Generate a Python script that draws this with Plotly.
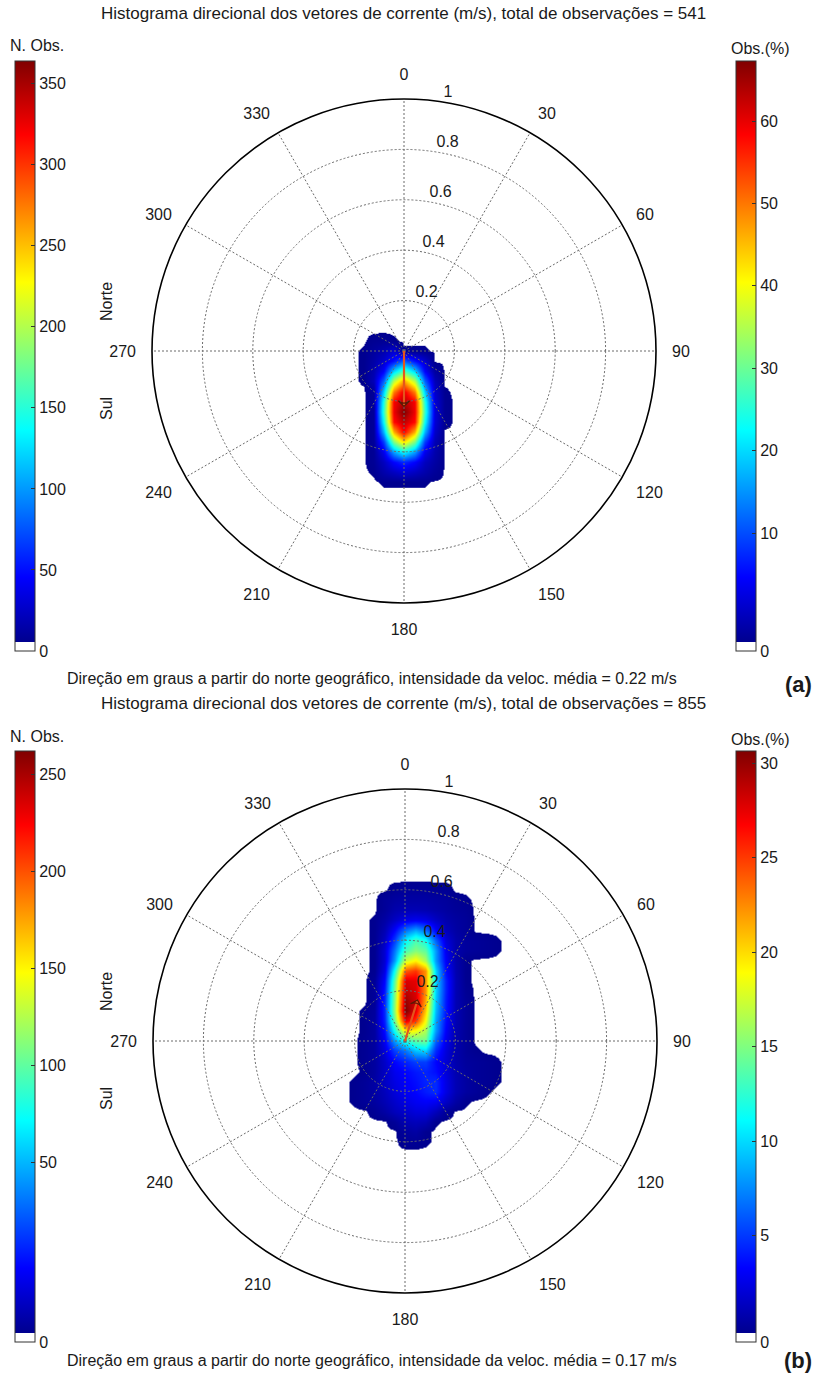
import plotly.graph_objects as go

W, H = 823, 1380
FONT = "Liberation Sans, Arial, sans-serif"

# ---------------- data ----------------
ANGLE_TICKS = [0, 30, 60, 90, 120, 150, 180, 210, 240, 270, 300, 330]
RADIAL_TICKS = [0.2, 0.4, 0.6, 0.8, 1.0]
RADIAL_LABELS = ["0.2", "0.4", "0.6", "0.8", "1"]

# panel (a): 2-D histogram of current vectors (east, north in m/s), counts per bin
A_X = [-0.20, -0.16, -0.12, -0.08, -0.04, 0.00, 0.04, 0.08, 0.12, 0.16, 0.20]
A_Y = [0.08, 0.04, 0.00, -0.04, -0.08, -0.12, -0.16, -0.20, -0.24, -0.28,
       -0.32, -0.36, -0.40, -0.44, -0.48, -0.52, -0.56]
A_COUNTS = [
    [0, 0, 0, 0, 0, 0, 0, 0, 0, 0, 0],
    [0, 0, 2, 3, 1, 0, 0, 0, 0, 0, 0],
    [0, 1, 6, 12, 24, 1, 1, 1, 0, 0, 0],
    [0, 1, 9, 22, 45, 75, 45, 22, 0, 0, 0],
    [0, 1, 12, 39, 116, 161, 116, 39, 6, 0, 0],
    [0, 1, 15, 75, 198, 257, 198, 75, 15, 0, 0],
    [0, 0, 4, 116, 272, 326, 272, 116, 22, 1, 0],
    [0, 0, 4, 144, 320, 346, 320, 144, 26, 2, 0],
    [0, 0, 4, 152, 323, 364, 323, 152, 27, 2, 0],
    [0, 0, 4, 136, 314, 341, 314, 136, 26, 2, 0],
    [0, 0, 4, 106, 254, 320, 254, 106, 21, 0, 0],
    [0, 0, 4, 62, 177, 235, 177, 62, 14, 0, 0],
    [0, 0, 3, 34, 99, 136, 99, 34, 11, 0, 0],
    [0, 0, 3, 18, 41, 55, 41, 18, 8, 0, 0],
    [0, 0, 1, 11, 19, 26, 19, 11, 4, 0, 0],
    [0, 0, 0, 1, 1, 1, 1, 1, 0, 0, 0],
    [0, 0, 0, 0, 0, 0, 0, 0, 0, 0, 0],
]
A_TOTAL = 541
A_MEAN_DIR = 180
A_MEAN_SPEED = 0.22
A_NOBS_MAX = 364
A_NOBS_TICKS = [0, 50, 100, 150, 200, 250, 300, 350]
A_PCT_TICKS = [0, 10, 20, 30, 40, 50, 60]

# panel (b)
B_X = [-0.24, -0.20, -0.16, -0.12, -0.08, -0.04, 0.00, 0.04, 0.08, 0.12,
       0.16, 0.20, 0.24, 0.28, 0.32, 0.36, 0.40]
B_Y = [0.68, 0.64, 0.60, 0.56, 0.52, 0.48, 0.44, 0.40, 0.36, 0.32, 0.28, 0.24,
       0.20, 0.16, 0.12, 0.08, 0.04, 0.00, -0.04, -0.08, -0.12, -0.16, -0.20,
       -0.24, -0.28, -0.32, -0.36, -0.40, -0.44, -0.48]
B_COUNTS = [
    [0, 0, 0, 0, 0, 0, 0, 0, 0, 0, 0, 0, 0, 0, 0, 0, 0],
    [0, 0, 0, 0, 0, 0, 0, 0, 0, 0, 0, 0, 0, 0, 0, 0, 0],
    [0, 0, 0, 0, 0, 2, 3, 3, 3, 2, 2, 0, 0, 0, 0, 0, 0],
    [0, 0, 0, 0, 3, 5, 6, 6, 6, 5, 4, 2, 1, 0, 0, 0, 0],
    [0, 0, 0, 0, 3, 8, 10, 10, 9, 7, 5, 3, 2, 0, 0, 0, 0],
    [0, 0, 0, 1, 6, 14, 22, 25, 22, 14, 8, 5, 3, 0, 0, 0, 0],
    [0, 0, 0, 1, 10, 30, 60, 75, 60, 30, 12, 6, 3, 0, 0, 0, 0],
    [0, 0, 0, 1, 14, 45, 95, 115, 100, 55, 20, 8, 4, 3, 2, 1, 0],
    [0, 0, 0, 1, 18, 60, 115, 130, 120, 70, 25, 8, 4, 3, 2, 1, 0],
    [0, 0, 0, 1, 18, 70, 150, 165, 140, 70, 28, 8, 1, 0, 0, 0, 0],
    [0, 0, 0, 1, 22, 100, 205, 215, 190, 85, 32, 9, 1, 0, 0, 0, 0],
    [0, 0, 0, 3, 30, 120, 238, 235, 190, 85, 38, 10, 1, 0, 0, 0, 0],
    [0, 0, 0, 3, 35, 128, 245, 238, 190, 85, 38, 10, 2, 0, 0, 0, 0],
    [0, 0, 0, 3, 38, 132, 255, 240, 185, 82, 36, 10, 3, 0, 0, 0, 0],
    [0, 0, 1, 4, 40, 135, 263, 235, 175, 78, 35, 10, 3, 0, 0, 0, 0],
    [0, 0, 1, 5, 38, 125, 235, 215, 160, 72, 32, 10, 3, 0, 0, 0, 0],
    [0, 0, 1, 5, 32, 100, 170, 160, 140, 70, 28, 9, 3, 0, 0, 0, 0],
    [0, 0, 2, 5, 26, 70, 105, 120, 125, 55, 24, 8, 3, 0, 0, 0, 0],
    [0, 0, 2, 5, 20, 45, 60, 80, 85, 40, 20, 8, 3, 1, 0, 0, 0],
    [0, 0, 2, 5, 15, 30, 38, 45, 45, 30, 18, 8, 4, 3, 2, 1, 0],
    [0, 0, 1, 5, 14, 25, 30, 35, 38, 32, 20, 9, 5, 3, 2, 1, 0],
    [0, 1, 3, 6, 14, 22, 28, 32, 38, 40, 22, 10, 5, 3, 2, 1, 0],
    [0, 1, 3, 6, 12, 20, 26, 30, 36, 40, 22, 10, 5, 3, 1, 0, 0],
    [0, 1, 3, 5, 10, 16, 22, 26, 28, 26, 15, 6, 1, 0, 0, 0, 0],
    [0, 0, 0, 2, 6, 12, 16, 20, 20, 12, 3, 0, 0, 0, 0, 0, 0],
    [0, 0, 0, 0, 0, 3, 10, 12, 10, 1, 0, 0, 0, 0, 0, 0, 0],
    [0, 0, 0, 0, 0, 0, 4, 6, 1, 0, 0, 0, 0, 0, 0, 0, 0],
    [0, 0, 0, 0, 0, 0, 2, 2, 1, 0, 0, 0, 0, 0, 0, 0, 0],
    [0, 0, 0, 0, 0, 0, 0, 0, 0, 0, 0, 0, 0, 0, 0, 0, 0],
    [0, 0, 0, 0, 0, 0, 0, 0, 0, 0, 0, 0, 0, 0, 0, 0, 0],
]
B_TOTAL = 855
B_MEAN_DIR = 17
B_MEAN_SPEED = 0.17
B_NOBS_MAX = 262
B_NOBS_TICKS = [0, 50, 100, 150, 200, 250]
B_PCT_TICKS = [0, 5, 10, 15, 20, 25, 30]

# ---------------- styling ----------------
JET = [[0.0, "rgb(0,0,143)"], [0.111, "rgb(0,0,255)"], [0.365, "rgb(0,255,255)"],
       [0.619, "rgb(255,255,0)"], [0.873, "rgb(255,0,0)"], [1.0, "rgb(128,0,0)"]]


def heat_scale(zmax):
    t = 0.5 / zmax
    sc = [[0.0, "rgba(255,255,255,0)"], [t, "rgba(255,255,255,0)"]]
    for p, c in JET:
        sc.append([max(p, t), c])
    return sc


def bar_scale():
    w = 1.0 / 64
    sc = [[0.0, "rgb(255,255,255)"], [w, "rgb(255,255,255)"]]
    for p, c in JET:
        sc.append([w + (1 - w) * p, c])
    return sc


def fx(xpx):
    return xpx / W


def fy(ypx):
    return 1 - ypx / H


R = 252
TF = 16  # text size
# colour-bar layout: extra room (fraction of bar) below the first regular tick,
# as drawn in the original figure where the "0" label sits at the bar's foot
PANELS = [
    dict(cx=404, cy=351, X=A_X, Y=A_Y, Z=A_COUNTS, total=A_TOTAL,
         mdir=A_MEAN_DIR, mspd=A_MEAN_SPEED, nmax=A_NOBS_MAX,
         nt=A_NOBS_TICKS, pt=A_PCT_TICKS, tag="(a)", n_foot=0.0, p_foot=0.06,
         title_y=13, cbt_y=46, bar=(61, 651), bottom_y=678, tag_y=684),
    dict(cx=405, cy=1041, X=B_X, Y=B_Y, Z=B_COUNTS, total=B_TOTAL,
         mdir=B_MEAN_DIR, mspd=B_MEAN_SPEED, nmax=B_NOBS_MAX,
         nt=B_NOBS_TICKS, pt=B_PCT_TICKS, tag="(b)", n_foot=0.14, p_foot=0.02,
         title_y=703, cbt_y=736, bar=(751, 1342), bottom_y=1360, tag_y=1360),
]

fig = go.Figure()
layout = dict(width=W, height=H, margin=dict(l=0, r=0, t=0, b=0),
              paper_bgcolor="white", plot_bgcolor="rgba(0,0,0,0)",
              showlegend=False, font=dict(family=FONT, color="#222"))
annotations = []


def txt(x, y, s, size=TF, angle=0):
    annotations.append(dict(
        x=fx(x), y=fy(y), xref="paper", yref="paper", text=s, showarrow=False,
        textangle=angle, xanchor="center", yanchor="middle",
        font=dict(size=size, family=FONT, color="#1a1a1a")))


def colorbar_trace(sfx, vmax, ticks, foot, xpx, top, bot):
    # linear scale from the bar foot (value lo, labelled "0") up to vmax
    lo = -foot * vmax / (1 - foot) if foot > 0 else 0
    tickvals = [lo] + ticks[1:]
    ticktext = [str(t) for t in ticks]
    return go.Scatter(
        x=[0], y=[0], mode="markers", xaxis="x" + sfx, yaxis="y" + sfx,
        hoverinfo="skip",
        marker=dict(size=0.1, opacity=0, color=[0], cmin=lo, cmax=vmax,
                    colorscale=bar_scale(), showscale=True,
                    colorbar=dict(len=(bot - top) / H, lenmode="fraction",
                                  y=fy((top + bot) / 2), yanchor="middle",
                                  ypad=0, xpad=0, x=fx(xpx), xanchor="left",
                                  thickness=20, outlinewidth=1,
                                  outlinecolor="#333", ticks="inside",
                                  ticklen=4, tickcolor="#333",
                                  tickmode="array", tickvals=tickvals,
                                  ticktext=ticktext,
                                  tickfont=dict(size=TF, family=FONT,
                                                color="#1a1a1a"))))


for i, P in enumerate(PANELS, start=1):
    sfx = "" if i == 1 else str(i)
    xd = [fx(P["cx"] - R), fx(P["cx"] + R)]
    yd = [fy(P["cy"] + R), fy(P["cy"] - R)]
    cy = P["cy"]

    fig.add_trace(go.Heatmap(
        x=P["X"], y=P["Y"], z=P["Z"], zmin=0, zmax=P["nmax"], zsmooth="best",
        colorscale=heat_scale(P["nmax"]), showscale=False, hoverinfo="skip",
        xaxis="x" + sfx, yaxis="y" + sfx))

    layout["xaxis" + sfx] = dict(domain=xd, range=[-1, 1], visible=False,
                                 fixedrange=True, anchor="y" + sfx)
    layout["yaxis" + sfx] = dict(domain=yd, range=[-1, 1], visible=False,
                                 fixedrange=True, anchor="x" + sfx)

    polar = "polar" + sfx
    fig.add_trace(go.Scatterpolar(
        r=[0, P["mspd"]], theta=[P["mdir"], P["mdir"]], mode="lines",
        line=dict(color="#E4561B", width=2.2), subplot=polar, hoverinfo="skip"))
    fig.add_trace(go.Scatterpolar(
        r=[P["mspd"]], theta=[P["mdir"]], mode="markers", subplot=polar,
        marker=dict(symbol="arrow-wide-open", size=8, angle=P["mdir"],
                    color="#5a1a05", line=dict(width=1.2, color="#5a1a05")),
        hoverinfo="skip"))
    fig.add_trace(go.Scatterpolar(
        r=RADIAL_TICKS, theta=[8] * len(RADIAL_TICKS), mode="text",
        text=["\u00a0" + s for s in RADIAL_LABELS], textposition="top right",
        textfont=dict(size=TF, family=FONT, color="#1a1a1a"), subplot=polar,
        hoverinfo="skip"))

    layout[polar] = dict(
        domain=dict(x=xd, y=yd), bgcolor="rgba(0,0,0,0)",
        angularaxis=dict(rotation=90, direction="clockwise",
                         tickmode="array", tickvals=ANGLE_TICKS,
                         ticktext=[str(a) for a in ANGLE_TICKS],
                         ticks="outside", ticklen=12,
                         tickcolor="rgba(0,0,0,0)",
                         tickfont=dict(size=TF, family=FONT, color="#1a1a1a"),
                         showline=True, linecolor="black", linewidth=1.6,
                         showgrid=True, gridcolor="#6a6a6a", griddash="2px,2px",
                         gridwidth=1),
        radialaxis=dict(range=[0, 1], tickvals=RADIAL_TICKS[:-1],
                        showticklabels=False, ticks="", showline=False,
                        showgrid=True, gridcolor="#6a6a6a", griddash="2px,2px",
                        gridwidth=1, angle=82))

    # colour bars (N. Obs. on the left, Obs.(%) on the right)
    pmax = P["nmax"] / P["total"] * 100
    top, bot = P["bar"]
    fig.add_trace(colorbar_trace(sfx, P["nmax"], P["nt"], P["n_foot"], 15, top, bot))
    fig.add_trace(colorbar_trace(sfx, pmax, P["pt"], P["p_foot"], 736, top, bot))

    txt(403, P["title_y"], "Histograma direcional dos vetores de corrente (m/s), "
        "total de observações = %d" % P["total"], size=17)
    txt(37, P["cbt_y"], "N. Obs.")
    txt(760, P["cbt_y"] + 3, "Obs.(%)")
    txt(106, cy - 50, "Norte", angle=-90)
    txt(106, cy + 57, "Sul", angle=-90)
    txt(372, P["bottom_y"], "Direção em graus a partir do norte geográfico, "
        "intensidade da veloc. média = %.2f m/s" % P["mspd"])
    txt(798, P["tag_y"], "<b>%s</b>" % P["tag"], size=22)

layout["annotations"] = annotations
fig.update_layout(**layout)
fig.write_html("out.html", config={"displayModeBar": False},
               post_script="document.body.style.margin='0';"
                           "document.body.style.overflow='hidden';")
